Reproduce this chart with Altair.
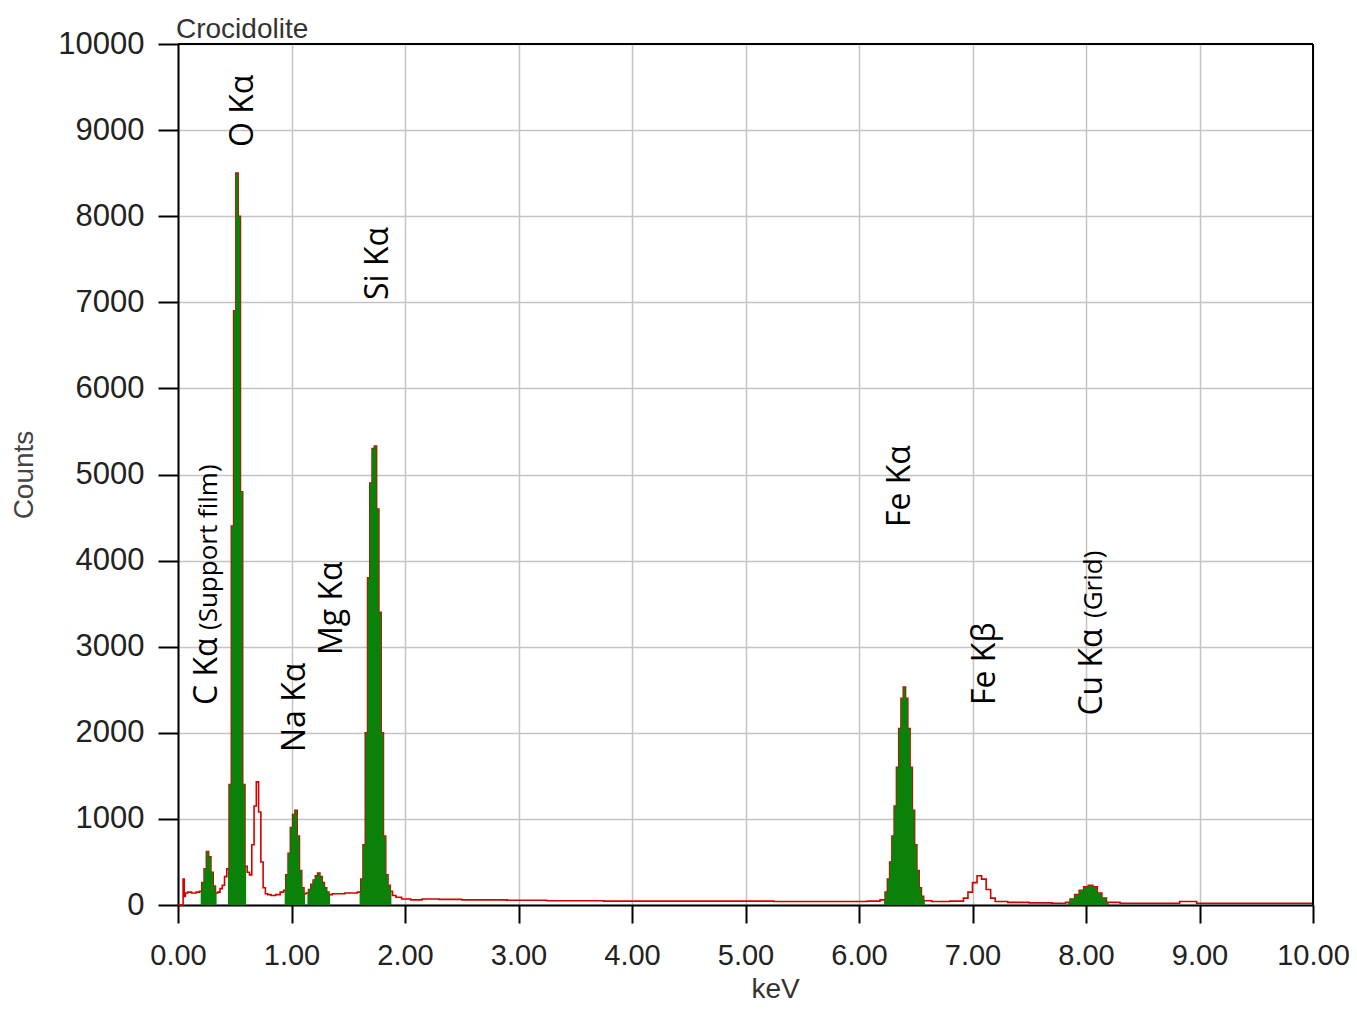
import altair as alt
import pandas as pd

# ---- spectrum (keV, counts) ----
kev = [0.00, 0.04, 0.05, 0.06, 0.07, 0.10, 0.14, 0.18,
       0.20, 0.22, 0.24, 0.26, 0.28, 0.30, 0.32, 0.34,
       0.36, 0.38, 0.40, 0.42,
       0.44, 0.46, 0.48, 0.50, 0.52, 0.54, 0.56, 0.58, 0.60,
       0.62, 0.64, 0.66, 0.68, 0.70, 0.72, 0.74, 0.76, 0.78, 0.80, 0.84, 0.88, 0.92,
       0.94, 0.96, 0.98, 1.00, 1.02, 1.04, 1.06, 1.08, 1.10, 1.12,
       1.14, 1.16, 1.18, 1.20, 1.22, 1.24, 1.26, 1.28, 1.30, 1.32, 1.34,
       1.38, 1.44, 1.50, 1.56,
       1.60, 1.62, 1.64, 1.66, 1.68, 1.70, 1.72, 1.74, 1.76, 1.78, 1.80, 1.82, 1.84, 1.86, 1.88,
       1.90, 1.94, 2.00, 2.10, 2.20, 2.40, 2.60, 2.80, 3.00, 3.50, 4.00, 4.50, 5.00, 5.50, 6.00, 6.15,
       6.22, 6.24, 6.26, 6.28, 6.30, 6.32, 6.34, 6.36, 6.38, 6.40, 6.42, 6.44, 6.46, 6.48, 6.50, 6.52, 6.54, 6.56, 6.58,
       6.70, 6.90, 6.94, 6.98, 7.02, 7.06, 7.10, 7.14, 7.18, 7.22, 7.40, 7.60, 7.80,
       7.84, 7.88, 7.92, 7.96, 8.00, 8.04, 8.08, 8.12, 8.16, 8.20,
       8.40, 8.80, 8.85, 8.95, 9.00, 10.00]
counts = [0, 0, 300, 100, 140, 150, 140, 150,
          160, 260, 420, 620, 560, 380, 220, 140,
          150, 190, 230, 330,
          420, 1400, 4400, 6900, 8500, 8000, 4800, 1400, 450,
          380, 350, 700, 1150, 1430, 1080, 500, 200, 130, 120, 110, 120, 150,
          170, 350, 600, 900, 1050, 1100, 800, 400, 200, 130,
          140, 180, 240, 290, 340, 370, 330, 260, 200, 150, 120,
          130, 130, 140, 140,
          150, 300, 700, 2000, 3800, 4900, 5300, 5330, 4600, 3400, 2000, 800, 350, 230, 160,
          110, 90, 70, 60, 70, 65, 60, 60, 55, 50, 45, 45, 45, 40, 40, 45,
          60, 150, 300, 500, 800, 1150, 1600, 2050, 2400, 2530, 2400, 2050, 1600, 1100, 700, 400, 200, 100, 50,
          40, 45, 80, 150, 260, 340, 300, 180, 80, 40, 30, 25, 20,
          30, 70, 120, 170, 210, 230, 210, 140, 80, 30,
          20, 20, 40, 40, 20, 20]

# identified (green) peak windows
peak_names = ["C", "O", "Na", "Mg", "Si", "FeKa", "Cu"]
peak_lo = [0.20, 0.44, 0.94, 1.14, 1.60, 6.22, 7.84]
peak_hi = [0.34, 0.60, 1.12, 1.34, 1.88, 6.58, 8.20]

# peak labels (rotated); x = baseline position (keV), y = start of text (counts)
lab_text = ["O Kα", "Si Kα", "C Kα", "Na Kα", "Mg Kα", "Fe Kα", "Fe Kβ", "Cu Kα"]
lab_x = [0.661, 1.850, 0.344, 1.119, 1.442, 6.449, 7.198, 8.141]
lab_y = [8804, 7027, 2323, 1777, 2904, 4390, 2323, 2200]

small_text = ["(Support film)", "(Grid)"]
small_x = [0.344, 8.141]
small_y = [3194, 3333]

chart_title = ["Crocidolite"]

spec = pd.DataFrame({"keV": kev, "Counts": counts})

rows = []
for name, lo, hi in zip(peak_names, peak_lo, peak_hi):
    for k, c in zip(kev, counts):
        if lo - 1e-9 <= k <= hi + 1e-9:
            rows.append({"keV": k, "Counts": c, "peak": name})
peaks = pd.DataFrame(rows)

labels = pd.DataFrame({"x": lab_x, "y": lab_y, "t": lab_text})
smalls = pd.DataFrame({"x": small_x, "y": small_y, "t": small_text})
one = pd.DataFrame({"t": chart_title})

W, H = 1135, 861
xscale = alt.Scale(domain=[0, 10], nice=False, zero=False)
yscale = alt.Scale(domain=[0, 10000], nice=False)

axis_font = "Liberation Sans"

xaxis = alt.Axis(values=[0, 1, 2, 3, 4, 5, 6, 7, 8, 9, 10], format=".2f",
                 labelFont=axis_font, labelFontSize=29, labelColor="#222",
                 tickSize=18, tickColor="#000", tickWidth=2,
                 domainColor="#000", domainWidth=2,
                 gridColor="#c4c4c4", gridWidth=1.5, labelPadding=18,
                 title="keV", titleFont=axis_font, titleFontSize=28,
                 titleFontWeight="normal", titleColor="#333", titlePadding=5,
                 titleX=597, labelFlush=False)
yaxis = alt.Axis(values=list(range(0, 10001, 1000)), format="d",
                 labelFont=axis_font, labelFontSize=31, labelColor="#222",
                 tickSize=20, tickColor="#000", tickWidth=2,
                 domainColor="#000", domainWidth=2,
                 gridColor="#c4c4c4", gridWidth=1.5, labelPadding=14,
                 title="Counts", titleFont=axis_font, titleFontSize=28,
                 titleFontWeight="normal", titleColor="#444",
                 titleX=-140, titleY=H / 2)

line = alt.Chart(spec).mark_line(interpolate="step", color="#d40000", strokeWidth=1.6).encode(
    x=alt.X("keV:Q", scale=xscale, axis=xaxis),
    y=alt.Y("Counts:Q", scale=yscale, axis=yaxis),
)

area = alt.Chart(peaks).mark_area(interpolate="step", color="#0a820a", opacity=1).encode(
    x=alt.X("keV:Q", scale=xscale),
    y=alt.Y("Counts:Q", scale=yscale, stack=None),
    detail="peak:N",
)

txt = alt.Chart(labels).mark_text(angle=270, align="left", baseline="alphabetic",
                                  font="Open Sans", fontSize=32, color="#000").encode(
    x=alt.X("x:Q", scale=xscale), y=alt.Y("y:Q", scale=yscale), text="t:N")

txt2 = alt.Chart(smalls).mark_text(angle=270, align="left", baseline="alphabetic",
                                   font="Open Sans", fontSize=26, color="#000").encode(
    x=alt.X("x:Q", scale=xscale), y=alt.Y("y:Q", scale=yscale), text="t:N")

border_top = alt.Chart(one).mark_rule(color="#000", strokeWidth=2).encode(
    x=alt.value(0), x2=alt.value(W), y=alt.value(0))
border_right = alt.Chart(one).mark_rule(color="#000", strokeWidth=2).encode(
    x=alt.value(W), y=alt.value(0), y2=alt.value(H))

title_txt = alt.Chart(one).mark_text(align="left", baseline="alphabetic",
                                     font=axis_font, fontSize=28, color="#333").encode(
    x=alt.value(-2), y=alt.value(-6), text="t:N")

chart = alt.layer(line, area, txt, txt2, border_top, border_right, title_txt).properties(
    width=W, height=H,
    autosize=alt.AutoSizeParams(type="none"),
    padding={"left": 170, "top": 36, "right": 36, "bottom": 100},
).configure_view(stroke=None).configure(background="white")

chart.save("out.html", embed_options={"renderer": "svg", "actions": False})
